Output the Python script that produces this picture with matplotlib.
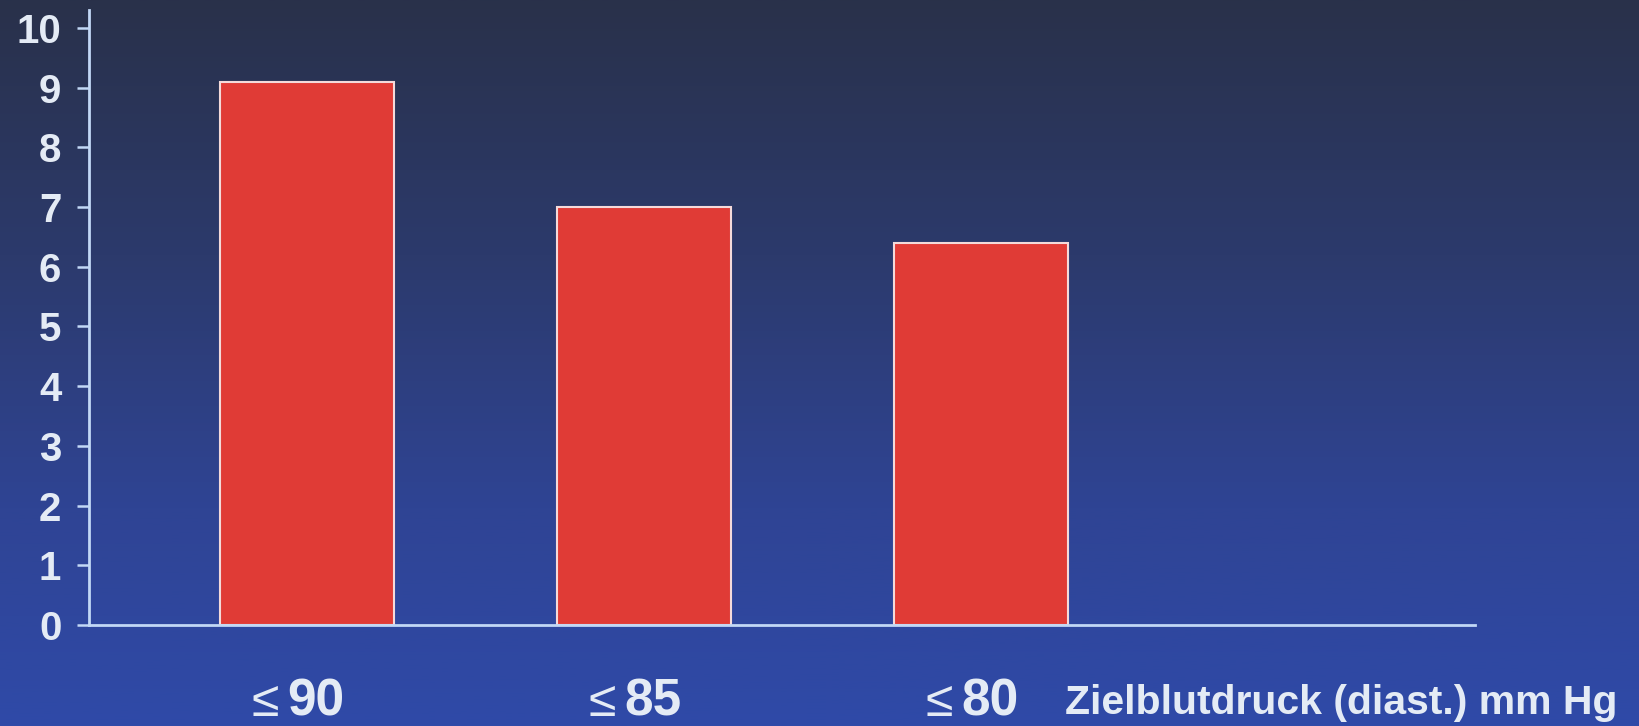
import matplotlib
matplotlib.use("Agg")
import matplotlib.pyplot as plt
import matplotlib.transforms as mtransforms
import numpy as np
from matplotlib.colors import LinearSegmentedColormap

plt.rcParams['font.family'] = ['Liberation Sans', 'DejaVu Sans']

# target diastolic pressure groups and bar heights
groups = ["90", "85", "80"]
values = [9.1, 7.0, 6.4]
yticks = list(range(0, 11))
xlabel = "Zielblutdruck (diast.) mm Hg"

bar_color = "#e03b36"
edge_color = "#f4dada"
axis_color = "#c2d8f6"
text_color = "#e4ebf5"

fig = plt.figure(figsize=(16.4, 7.26), dpi=100)

# background: dark slate at the top fading into royal blue
bg = fig.add_axes([0, 0, 1, 1], zorder=-10)
cmap = LinearSegmentedColormap.from_list(
    "bg", [(0.0, "#29314a"), (0.35, "#2c3a6c"), (0.7, "#2f4494"), (1.0, "#2f4aa8")])
grad = np.linspace(0, 1, 256).reshape(-1, 1)
bg.imshow(grad, aspect="auto", cmap=cmap, extent=[0, 1, 1, 0])
bg.set_axis_off()

ax = fig.add_axes([0.0543, 0.1391, 0.8451, 0.8471])
ax.patch.set_visible(False)

x = np.arange(len(groups))
ax.bar(x, values, width=0.516, color=bar_color, edgecolor=edge_color, linewidth=1.5, zorder=2)

ax.set_xlim(-0.647, 3.466)
ax.set_ylim(0, 10.3)

for side in ["top", "right"]:
    ax.spines[side].set_visible(False)
for side in ["left", "bottom"]:
    ax.spines[side].set_color(axis_color)
    ax.spines[side].set_linewidth(2.0)
    ax.spines[side].set_zorder(3)

ax.set_yticks(yticks)
ax.set_yticklabels([str(t) for t in yticks], fontsize=29, fontweight="bold", color=text_color)
ax.tick_params(axis="y", direction="out", length=9, width=1.8, color=axis_color, pad=11)
ax.set_xticks([])

# category labels under the bars: thin "≤" followed by a bold number
trans = mtransforms.blended_transform_factory(ax.transData, fig.transFigure)
for i, g in enumerate(groups):
    ax.annotate("≤", xy=(i, 0.0138), xycoords=trans, xytext=(-20, 0), textcoords="offset points",
                ha="right", va="baseline", fontsize=36, color=text_color, annotation_clip=False)
    ax.annotate(g, xy=(i, 0.0138), xycoords=trans, xytext=(-14, 0), textcoords="offset points",
                ha="left", va="baseline", fontsize=37, fontweight="bold", color=text_color,
                annotation_clip=False)

fig.text(1065 / 1640, 0.0165, xlabel, ha="left", va="baseline", fontsize=29.5,
         fontweight="bold", color=text_color)

fig.savefig("out.png", dpi=100)
